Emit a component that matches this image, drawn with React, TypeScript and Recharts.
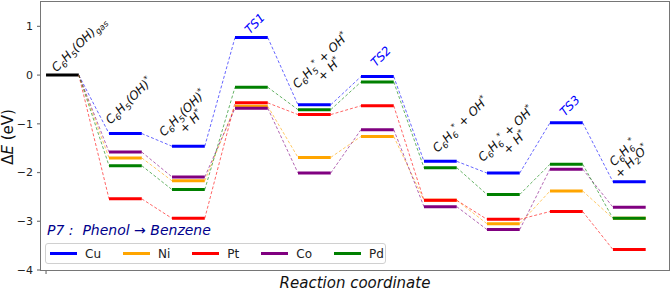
import { ComposedChart, Label, Line, Scatter, XAxis, YAxis } from 'recharts';

// reaction states (mathtext-like: _ sub, ^ sup, \n new line)
const states = [
  'C_6H_5(OH)_{gas}',
  'C_6H_5(OH)^*',
  'C_6H_5(OH)^*\n+ H^*',
  'TS1',
  'C_6H_5^* + OH^*\n+ H^*',
  'TS2',
  'C_6H_6^* + OH^*',
  'C_6H_6^* + OH^*\n+ H^*',
  'TS3',
  'C_6H_6^*\n+ H_2O^*',
];
const transitionStates = ['TS1', 'TS2', 'TS3'];

const metals = ['Cu', 'Ni', 'Pt', 'Co', 'Pd'];
const gasEnergy = [0];
const cuEnergy = [0, -1.2, -1.46, 0.77, -0.61, -0.03, -1.77, -2.01, -0.98, -2.19];
const niEnergy = [0, -1.7, -2.17, -0.64, -1.69, -1.26, -2.57, -3.05, -2.38, -2.94];
const ptEnergy = [0, -2.54, -2.94, -0.57, -0.81, -0.63, -2.57, -2.96, -2.8, -3.58];
const coEnergy = [0, -1.58, -2.09, -0.68, -2.01, -1.12, -2.7, -3.17, -1.93, -2.71];
const pdEnergy = [0, -1.86, -2.35, -0.25, -0.71, -0.14, -1.9, -2.45, -1.83, -2.94];
const yTicks = [-4, -3, -2, -1, 0, 1];

const energies: Record<string, number[]> = { Cu: cuEnergy, Ni: niEnergy, Pt: ptEnergy, Co: coEnergy, Pd: pdEnergy };
const colors: Record<string, string> = { Cu: '#0000ff', Ni: '#ffa500', Pt: '#ff0000', Co: '#800080', Pd: '#008000' };

// layout: pixel offset of each label block centre from the top of its level
const labelOffsets = [
  [16.5, -30.7], [3.5, -33], [-1.5, -29], [3.5, -14], [10.5, -40],
  [3.5, -20], [20, -37], [7, -35], [3.5, -17], [-2, -25],
];

const W = 671;
const H = 293;
const LEVEL_W = 0.52;
const FONT = '"DejaVu Sans", sans-serif';
const FRAME = '#767676';
const PLOT = { left: 41, top: 2, width: 628, height: 268 };

type Pt = { x: number; y: number | null };

function levelPoints(vals: number[], from = 1): Pt[] {
  const pts: Pt[] = [];
  vals.forEach((e, i) => {
    if (i < from) return;
    pts.push({ x: i, y: e }, { x: i + LEVEL_W, y: e }, { x: i + LEVEL_W, y: null });
  });
  return pts;
}

function linkPoints(vals: number[]): Pt[] {
  const pts: Pt[] = [];
  for (let i = 0; i < vals.length - 1; i++) {
    pts.push({ x: i + LEVEL_W, y: vals[i] }, { x: i + 1, y: vals[i + 1] }, { x: i + 1, y: null });
  }
  return pts;
}

const labelData = states.map((text, i) => ({
  x: i + LEVEL_W / 2,
  y: Math.max(...metals.map((m) => energies[m][i])),
  text,
  idx: i,
}));

function parseMath(line: string) {
  const parts: { t: string; k: 'n' | 'sub' | 'sup' }[] = [];
  let buf = '';
  let i = 0;
  while (i < line.length) {
    const c = line[i];
    if (c === '_' || c === '^') {
      if (buf) parts.push({ t: buf, k: 'n' });
      buf = '';
      let t = '';
      if (line[i + 1] === '{') {
        const j = line.indexOf('}', i);
        t = line.slice(i + 2, j);
        i = j + 1;
      } else {
        t = line[i + 1];
        i += 2;
      }
      parts.push({ t, k: c === '_' ? 'sub' : 'sup' });
    } else {
      buf += c;
      i++;
    }
  }
  if (buf) parts.push({ t: buf, k: 'n' });
  return parts;
}

function MathLine({ line, y, fill }: { line: string; y: number; fill: string }) {
  let cur = 0;
  const spans = parseMath(line).map((p, i) => {
    const target = p.k === 'sub' ? 3 : p.k === 'sup' ? -4.5 : 0;
    const dy = target - cur;
    cur = target;
    return (
      <tspan key={i} dy={dy} fontSize={p.k === 'n' ? 12 : 8.5}>
        {p.t}
      </tspan>
    );
  });
  return (
    <text x={0} y={y} textAnchor="middle" fill={fill} fontFamily={FONT} fontStyle="italic" fontSize={12}>
      {spans}
    </text>
  );
}

function StateLabel(props: any) {
  const { cx, cy, payload } = props;
  if (cx == null || cy == null || !payload) return <g />;
  const [dx, dy] = labelOffsets[payload.idx];
  const lines = String(payload.text).split('\n');
  const fill = transitionStates.includes(payload.text) ? '#0000ff' : '#111';
  return (
    <g transform={`translate(${cx + dx},${cy + dy}) rotate(-45)`}>
      {lines.map((ln, k) => (
        <MathLine key={k} line={ln} y={(k - (lines.length - 1) / 2) * 12.5 + 4} fill={fill} />
      ))}
    </g>
  );
}

function YTitle() {
  return (
    <text transform="translate(13,137) rotate(-90)" textAnchor="middle" fill="#111" fontFamily={FONT} fontSize={15}>
      <tspan>Δ</tspan>
      <tspan fontStyle="italic">E</tspan>
      <tspan> (eV)</tspan>
    </text>
  );
}

function XTitle() {
  return (
    <text x={PLOT.left + PLOT.width / 2} y={288} textAnchor="middle" fill="#111" fontFamily={FONT} fontSize={15} fontStyle="italic">
      Reaction coordinate
    </text>
  );
}

function Legend() {
  return (
    <div
      style={{
        position: 'absolute',
        left: 45,
        top: 243,
        width: 341,
        height: 21,
        boxSizing: 'border-box',
        border: '1px solid #d0d0d0',
        borderRadius: 3,
        background: 'rgba(255,255,255,0.85)',
        display: 'flex',
        alignItems: 'center',
        paddingLeft: 4,
        fontFamily: FONT,
        fontSize: 12,
        color: '#222',
      }}
    >
      {metals.map((m) => (
        <div key={m} style={{ display: 'flex', alignItems: 'center', marginRight: 22 }}>
          <div style={{ width: 27, height: 2.5, background: colors[m], marginRight: 8 }} />
          <span>{m}</span>
        </div>
      ))}
    </div>
  );
}

export default function App() {
  return (
    <div style={{ position: 'absolute', left: 0, top: 0, width: W, height: H, background: '#fff' }}>
      <ComposedChart width={W} height={H} margin={{ top: PLOT.top, right: W - PLOT.left - PLOT.width, bottom: 0, left: 0 }}>
        <XAxis
          dataKey="x"
          type="number"
          domain={[-0.08, 9.89]}
          ticks={[0]}
          tickFormatter={() => ''}
          tickSize={4}
          height={H - PLOT.top - PLOT.height}
          axisLine={false}
          tickLine={{ stroke: FRAME, strokeWidth: 1.2 }}
          allowDataOverflow
        >
          <Label content={<XTitle />} />
        </XAxis>
        <YAxis
          type="number"
          domain={[-4, 1.5]}
          ticks={yTicks}
          tickFormatter={(v) => String(v).replace('-', '\u2212')}
          tick={{ fill: '#222', fontSize: 11, fontFamily: FONT }}
          tickSize={4}
          tickMargin={4}
          width={PLOT.left}
          axisLine={false}
          tickLine={{ stroke: FRAME, strokeWidth: 1.2 }}
          allowDataOverflow
        >
          <Label content={<YTitle />} />
        </YAxis>

        <Line data={levelPoints(gasEnergy, 0)} dataKey="y" stroke="#000" strokeWidth={3} dot={false} activeDot={false} isAnimationActive={false} />
        {metals.flatMap((m) => [
          <Line
            key={`${m}-link`}
            data={linkPoints(energies[m])}
            dataKey="y"
            stroke={colors[m]}
            strokeWidth={1}
            strokeOpacity={0.6}
            strokeDasharray="3 2"
            dot={false}
            activeDot={false}
            isAnimationActive={false}
          />,
          <Line
            key={`${m}-level`}
            data={levelPoints(energies[m])}
            dataKey="y"
            name={m}
            stroke={colors[m]}
            strokeWidth={3}
            dot={false}
            activeDot={false}
            isAnimationActive={false}
          />,
        ])}
        <Scatter data={labelData} dataKey="y" shape={(p: any) => <StateLabel {...p} />} isAnimationActive={false} />
      </ComposedChart>
      <div
        style={{
          position: 'absolute',
          left: PLOT.left - 1,
          top: PLOT.top - 1,
          width: PLOT.width + 2,
          height: PLOT.height + 2,
          boxSizing: 'border-box',
          border: `1.5px solid ${FRAME}`,
          pointerEvents: 'none',
        }}
      />
      <div
        style={{
          position: 'absolute',
          left: 47,
          top: 222,
          fontFamily: FONT,
          fontSize: 14,
          lineHeight: '16px',
          fontStyle: 'italic',
          color: '#00008b',
          whiteSpace: 'pre',
        }}
      >
        P7 :  Phenol → Benzene
      </div>
      <Legend />
    </div>
  );
}
